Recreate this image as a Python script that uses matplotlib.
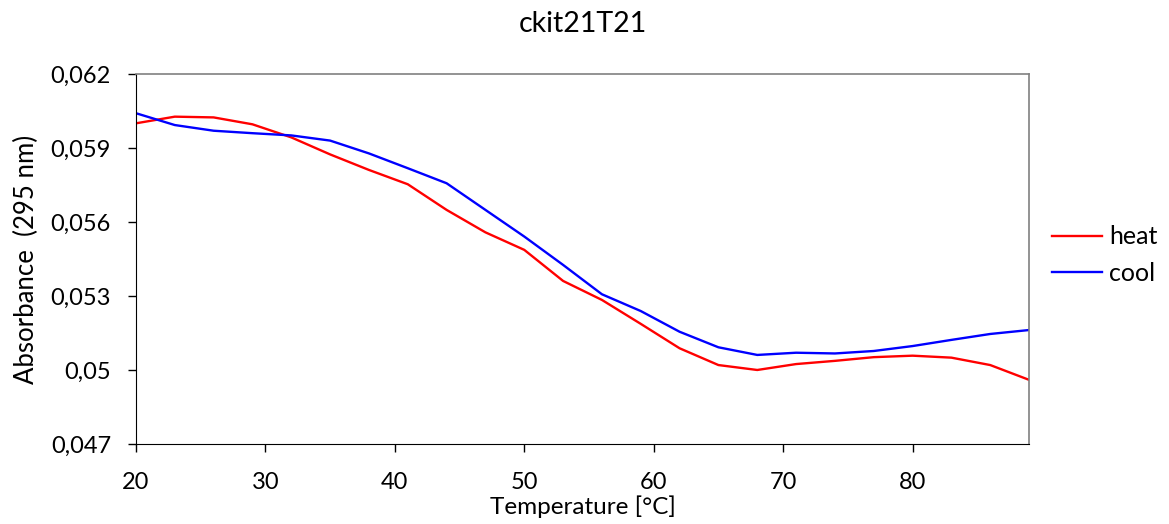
import matplotlib.pyplot as plt

plt.rcParams['font.family'] = ['Lato', 'DejaVu Sans']

temp = [20, 23, 26, 29, 32, 35, 38, 41, 44, 47, 50, 53, 56, 59, 62, 65, 68, 71, 74, 77, 80, 83, 86, 89]
heat = [0.06000, 0.06027, 0.06024, 0.05996, 0.05943, 0.05874, 0.05811, 0.05753, 0.05649, 0.05558,
        0.05487, 0.05361, 0.05284, 0.05187, 0.05088, 0.05020, 0.05000, 0.05024, 0.05037, 0.05052,
        0.05058, 0.05050, 0.05020, 0.04960]
cool = [0.06041, 0.05993, 0.05970, 0.05960, 0.05951, 0.05930, 0.05878, 0.05818, 0.05757, 0.05649,
        0.05541, 0.05426, 0.05307, 0.05239, 0.05155, 0.05092, 0.05061, 0.05070, 0.05067, 0.05077,
        0.05097, 0.05122, 0.05146, 0.05162]

yticks = [0.047, 0.050, 0.053, 0.056, 0.059, 0.062]
ytick_labels = ['0,047', '0,05', '0,053', '0,056', '0,059', '0,062']
xticks = [20, 30, 40, 50, 60, 70, 80]

fig = plt.figure(figsize=(11.69, 5.24), dpi=100)
ax = fig.add_axes([0.1163, 0.1527, 0.7640, 0.7061])

ax.plot(temp, heat, color='#ff0000', lw=1.7, label='heat')
ax.plot(temp, cool, color='#0000ff', lw=1.7, label='cool')

ax.set_xlim(20, 89)
ax.set_ylim(0.047, 0.062)
ax.set_xticks(xticks)
ax.set_xticklabels([str(t) for t in xticks])
ax.set_yticks(yticks)
ax.set_yticklabels(ytick_labels)
ax.tick_params(direction='out', length=6, width=1, labelsize=17)
ax.tick_params(axis='x', pad=14)
ax.tick_params(axis='y', pad=12)

for side in ['left', 'bottom']:
    ax.spines[side].set_color('black')
for side in ['top', 'right']:
    ax.spines[side].set_color('#808080')
    ax.spines[side].set_linewidth(1.2)

ax.set_title('ckit21T21', fontsize=20.5, pad=30)
ax.set_xlabel('Temperature [°C]', fontsize=17.5, labelpad=2)
ax.set_ylabel('Absorbance  (295 nm)', fontsize=18.5, labelpad=8)

ax.legend(loc='center left', bbox_to_anchor=(1.0, 0.51), frameon=False,
          fontsize=18, handlelength=2.0, handletextpad=0.3, labelspacing=0.55,
          borderaxespad=0.5)

fig.savefig('out.png', dpi=100)
